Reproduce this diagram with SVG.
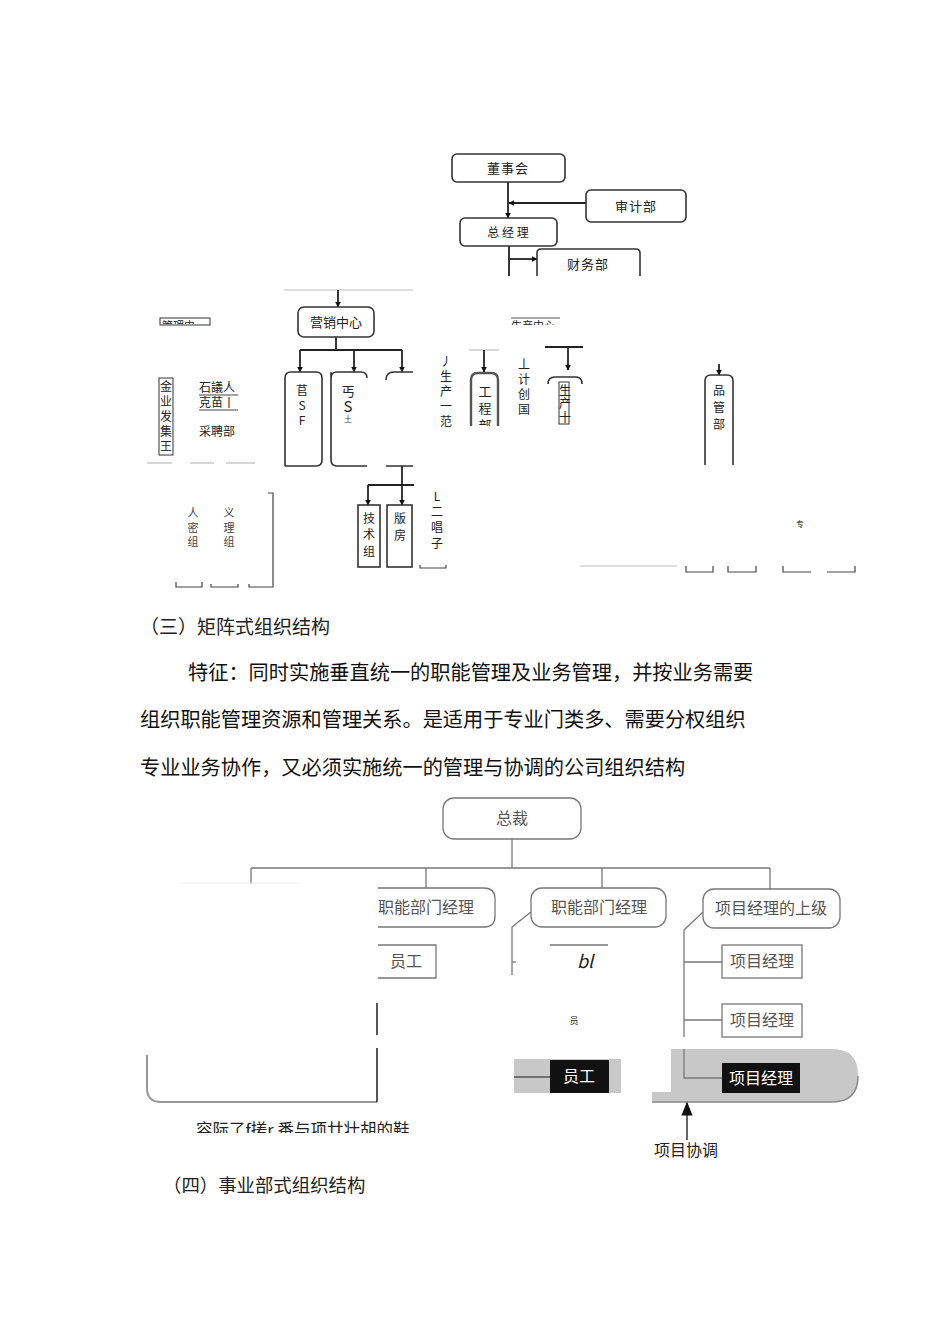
<svg xmlns="http://www.w3.org/2000/svg" width="950" height="1344" viewBox="0 0 950 1344">
<style>
text{font-family:"Noto Sans CJK SC","Liberation Sans",sans-serif;fill:#222}
.box{fill:#fff;stroke:#333;stroke-width:1.6}
.ln{fill:none;stroke:#222;stroke-width:1.8}
.thin{fill:none;stroke:#444;stroke-width:1.2}
.gl{fill:none;stroke:#bbb;stroke-width:1.2}
.t13{font-size:13px;text-anchor:middle}
.t12{font-size:12px;text-anchor:middle}
.t11{font-size:11px;text-anchor:middle;fill:#444}
.vt{writing-mode:vertical-rl;text-orientation:upright}
.para{font-size:20.2px;fill:#111}
.mbox{fill:#fff;stroke:#777;stroke-width:1.3}
.ml{fill:none;stroke:#777;stroke-width:1.3}
.mt{font-size:16px;text-anchor:middle;fill:#555}
.mw{font-size:16px;text-anchor:middle;fill:#fff}
</style>
<defs>
<marker id="ar" viewBox="0 0 10 10" refX="9" refY="5" markerWidth="6" markerHeight="6" orient="auto" markerUnits="userSpaceOnUse"><path d="M0,0 L10,5 L0,10 z" fill="#111"/></marker>
<marker id="arBig" viewBox="0 0 10 10" refX="9" refY="5" markerWidth="14" markerHeight="14" orient="auto" markerUnits="userSpaceOnUse"><path d="M0,1 L10,5 L0,9 z" fill="#111"/></marker>
<clipPath id="cTop1"><rect x="150" y="317" width="70" height="7"/></clipPath>
<clipPath id="cTop2"><rect x="505" y="318" width="60" height="7"/></clipPath>
<clipPath id="cEng"><rect x="460" y="340" width="50" height="86"/></clipPath>
<clipPath id="cCap"><rect x="180" y="1115" width="260" height="18"/></clipPath>
</defs>
<rect width="950" height="1344" fill="#fff"/>

<!-- ===== Top chart ===== -->
<g id="connectors-top">
<line class="ln" x1="508" y1="182" x2="508" y2="218" marker-end="url(#ar)"/>
<line class="ln" x1="586" y1="203" x2="509" y2="203" marker-end="url(#ar)"/>
<line class="ln" x1="509" y1="246" x2="509" y2="276"/>
<line class="ln" x1="509" y1="259" x2="537" y2="259" marker-end="url(#ar)"/>
<line class="gl" x1="284" y1="290" x2="413" y2="290"/>
<line class="ln" x1="338" y1="290" x2="338" y2="307" marker-end="url(#ar)"/>
<line class="ln" x1="336" y1="337" x2="336" y2="350"/>
<line class="ln" x1="300" y1="350" x2="402" y2="350"/>
<line class="ln" x1="300" y1="350" x2="300" y2="372" marker-end="url(#ar)"/>
<line class="ln" x1="354" y1="350" x2="354" y2="372" marker-end="url(#ar)"/>
<line class="ln" x1="402" y1="350" x2="402" y2="372" marker-end="url(#ar)"/>
<line class="ln" x1="402" y1="466" x2="402" y2="505" marker-end="url(#ar)"/>
<line class="ln" x1="368" y1="485" x2="414" y2="485"/>
<line class="ln" x1="368" y1="485" x2="368" y2="505" marker-end="url(#ar)"/>
<line class="gl" x1="469" y1="350" x2="499" y2="350"/>
<line class="ln" x1="484" y1="350" x2="484" y2="372" marker-end="url(#ar)"/>
<line class="ln" x1="545" y1="347" x2="583" y2="347" stroke-width="2.4"/>
<line class="ln" x1="568" y1="347" x2="568" y2="370" marker-end="url(#ar)"/>
<line class="ln" x1="719" y1="364" x2="719" y2="375" marker-end="url(#ar)"/>
</g>

<g id="n-dongshihui"><rect class="box" x="452" y="154" width="113" height="28" rx="5"/><text class="t13" x="508" y="173" letter-spacing="1">董事会</text></g>
<g id="n-shenjibu"><rect class="box" x="586" y="190" width="100" height="32" rx="5"/><text class="t13" x="636" y="211" letter-spacing="1">审计部</text></g>
<g id="n-zongjingli"><rect class="box" x="460" y="218" width="97" height="28" rx="5"/><text class="t12" x="508" y="237">总 经 理</text></g>
<g id="n-caiwubu"><path class="box" d="M537,276 V253 Q537,249 541,249 H636 Q640,249 640,253 V276"/><text class="t13" x="588" y="269" letter-spacing="1">财务部</text></g>
<g id="n-yingxiao"><rect class="box" x="298" y="307" width="76" height="30" rx="6"/><text class="t13" x="336" y="327">营销中心</text></g>

<g id="n-sub1"><path class="box" d="M285,466 V378 Q285,372 291,372 H316 Q322,372 322,378 V460 Q322,466 316,466 H285"/>
<text class="t12"><tspan x="302" y="395">苢</tspan><tspan x="302" y="410">S</tspan><tspan x="302" y="425">F</tspan></text></g>
<g id="n-sub2"><path class="box" d="M331,378 Q331,372 337,372 H361 Q367,372 367,378 M331,372 V460 Q331,466 337,466 H367"/>
<text class="vt" x="348" y="385" font-size="13" letter-spacing="1">丐<tspan font-size="15">S</tspan><tspan font-size="8" fill="#444">土</tspan></text></g>
<g id="n-sub3"><path class="box" d="M386,380 Q386,372 394,372 H413 M386,466 H413"/></g>
<g id="n-jishuzu"><rect class="box" x="358" y="505" width="22" height="62"/><text class="t12"><tspan x="369" y="523">技</tspan><tspan x="369" y="539">术</tspan><tspan x="369" y="556">组</tspan></text></g>
<g id="n-banfang"><rect class="box" x="387" y="505" width="25" height="62"/><text class="t12"><tspan x="400" y="523">版</tspan><tspan x="400" y="540">房</tspan></text></g>
<g id="n-changzi"><text class="t12"><tspan x="437" y="501">L</tspan><tspan x="437" y="516">二</tspan><tspan x="437" y="532">唱</tspan><tspan x="437" y="548">子</tspan></text>
<path class="thin" d="M420,565 V568 H446 V565"/></g>

<g id="n-guanli"><rect x="160" y="318" width="50" height="7" fill="none" stroke="#333" stroke-width="1"/><text x="162" y="330" font-size="11" clip-path="url(#cTop1)">管理中</text></g>
<g id="n-qiye"><rect x="159" y="378" width="14" height="77" fill="none" stroke="#333" stroke-width="1"/>
<text class="t12"><tspan x="166" y="391">金</tspan><tspan x="166" y="406">业</tspan><tspan x="166" y="421">发</tspan><tspan x="166" y="436">集</tspan><tspan x="166" y="451">王</tspan></text></g>
<g id="n-shiyi"><text x="199" y="392" font-size="12">石議人</text><line x1="199" y1="395" x2="238" y2="395" stroke="#444"/>
<text x="199" y="407" font-size="12">克苗丨</text><line x1="199" y1="410" x2="238" y2="410" stroke="#444"/>
<text x="199" y="436" font-size="12">采聘部</text></g>
<g id="n-left-lines"><line class="gl" x1="147" y1="463" x2="172" y2="463" stroke="#888"/><line class="gl" x1="190" y1="463" x2="214" y2="463" stroke="#888"/><line class="gl" x1="226" y1="463" x2="255" y2="463" stroke="#888"/></g>
<g id="n-renmi"><text class="t11"><tspan x="193" y="517">人</tspan><tspan x="193" y="532">密</tspan><tspan x="193" y="546">组</tspan></text></g>
<g id="n-yili"><text class="t11"><tspan x="229" y="517">义</tspan><tspan x="229" y="532">理</tspan><tspan x="229" y="546">组</tspan></text></g>
<g id="n-left-brackets"><path class="thin" d="M268,493 H273 V587 H249 V584" stroke-width="1.6"/><path class="thin" d="M176,582 V587 H202 V582" stroke-width="2"/><path class="thin" d="M211,584 V587 H238 V584"/></g>

<g id="n-shengchan1"><text class="vt" x="446" y="355" font-size="12" letter-spacing="3">丿生产一范</text></g>
<g id="n-gongcheng"><g clip-path="url(#cEng)"><path d="M471,430 V380 Q471,373 478,373 H491 Q498,373 498,380 V430" fill="#fff" stroke="#555" stroke-width="2.4"/>
<text class="t13" fill="#444"><tspan x="485" y="396">工</tspan><tspan x="485" y="413">程</tspan><tspan x="485" y="430">部</tspan></text></g></g>
<g id="n-shengchanzhongxin"><line x1="511" y1="318" x2="560" y2="318" stroke="#555"/><text x="511" y="330" font-size="11" clip-path="url(#cTop2)">生产中心</text></g>
<g id="n-jihua"><text class="vt" x="524" y="358" font-size="12" letter-spacing="3">丄计创国</text></g>
<g id="n-shengchan2"><path class="box" d="M548,384 Q548,377 555,377 H576 Q582,377 582,384" fill="none"/>
<rect x="559" y="382" width="10" height="42" fill="none" stroke="#333" stroke-width="1"/>
<text class="vt" x="565" y="384" font-size="12" letter-spacing="1.5">生产十</text></g>
<g id="n-pinguan"><path class="box" d="M705,465 V381 Q705,375 711,375 H727 Q733,375 733,381 V465"/>
<text class="t12"><tspan x="719" y="395">品</tspan><tspan x="719" y="412">管</tspan><tspan x="719" y="429">部</tspan></text></g>
<g id="n-zhuan"><text x="800" y="527" font-size="8" text-anchor="middle" fill="#444">专</text>
<line class="gl" x1="580" y1="566" x2="677" y2="566" stroke="#ccc"/>
<path class="thin" d="M686,566 V572 H713 V566" stroke-width="1.8"/><path class="thin" d="M728,566 V572 H756 V566" stroke-width="1.8"/><path class="thin" d="M783,566 V572 H811" stroke-width="1.8"/><path class="thin" d="M827,572 H855 V566" stroke-width="1.8"/></g>

<!-- ===== Text ===== -->
<g id="text-body">
<text x="140" y="634" font-size="19" fill="#111">（三）矩阵式组织结构</text>
<text class="para" x="188" y="680">特征：同时实施垂直统一的职能管理及业务管理，并按业务需要</text>
<text class="para" x="140" y="727">组织职能管理资源和管理关系。是适用于专业门类多、需要分权组织</text>
<text class="para" x="140" y="775">专业业务协作，又必须实施统一的管理与协调的公司组织结构</text>
<text x="163" y="1192" font-size="18.4" fill="#111">（四）事业部式组织结构</text>
</g>

<!-- ===== Matrix chart ===== -->
<g id="connectors-matrix">
<line class="ml" x1="512" y1="839" x2="512" y2="868"/>
<line class="ml" x1="251" y1="868" x2="770" y2="868"/>
<line class="ml" x1="251" y1="868" x2="251" y2="884"/>
<line class="ml" x1="426" y1="868" x2="426" y2="888"/>
<line class="ml" x1="602" y1="868" x2="602" y2="888"/>
<line class="ml" x1="770" y1="868" x2="770" y2="889"/>
<path class="ml" d="M531,912 L512,927 V975"/>
<line class="ml" x1="512" y1="962" x2="516" y2="962"/>
<path class="ml" d="M703,912 L684,930 V1037"/>
<line class="ml" x1="684" y1="962" x2="722" y2="962"/>
<line class="ml" x1="684" y1="1020" x2="722" y2="1020"/>
<line x1="180" y1="883" x2="300" y2="883" stroke="#eee" stroke-width="1"/>
</g>

<g id="m-zongcai"><rect class="mbox" x="443" y="798" width="138" height="41" rx="11"/><text class="mt" x="512" y="824">总裁</text></g>
<g id="m-zhineng1"><path class="mbox" d="M378,888 H484 Q495,888 495,899 V916 Q495,927 484,927 H378"/><text class="mt" x="426" y="913">职能部门经理</text></g>
<g id="m-yuangong1"><path class="mbox" d="M378,945 H436 V978 H378"/><text class="mt" x="406" y="967">员工</text></g>
<g id="m-zhineng2"><rect class="mbox" x="531" y="888" width="135" height="39" rx="11"/><text class="mt" x="599" y="913">职能部门经理</text></g>
<g id="m-bl"><line x1="550" y1="945" x2="608" y2="945" stroke="#777" stroke-width="1.3"/><text x="585" y="968" font-size="18" font-style="italic" text-anchor="middle" fill="#666" font-family="Liberation Sans,sans-serif">bl</text></g>
<g id="m-yuan"><text x="574" y="1024" font-size="9" text-anchor="middle" fill="#444">员</text></g>
<g id="m-shangji"><rect class="mbox" x="703" y="889" width="137" height="39" rx="11"/><text class="mt" x="771" y="914">项目经理的上级</text></g>
<g id="m-xmjl1"><rect class="mbox" x="722" y="945" width="80" height="33"/><text class="mt" x="762" y="967">项目经理</text></g>
<g id="m-xmjl2"><rect class="mbox" x="722" y="1004" width="80" height="33"/><text class="mt" x="762" y="1026">项目经理</text></g>

<g id="m-left-region"><path d="M147,1055 V1088 Q147,1102 161,1102 H377" fill="none" stroke="#999" stroke-width="2"/>
<line x1="377" y1="1003" x2="377" y2="1035" stroke="#111" stroke-width="1.4"/>
<line x1="377" y1="1048" x2="377" y2="1102" stroke="#111" stroke-width="1.4"/></g>

<g id="m-yuangong2"><rect x="514" y="1059" width="107" height="34" fill="#c8c8c8"/>
<line x1="514" y1="1077" x2="550" y2="1077" stroke="#555" stroke-width="1.3"/>
<rect x="550" y="1060" width="59" height="33" fill="#111"/><text class="mw" x="579" y="1082">员工</text></g>

<g id="m-xmjl3"><path d="M671,1049 H832 Q858,1049 858,1075 V1076 Q858,1102 832,1102 H652 V1092 H671 Z" fill="#c8c8c8"/>
<path d="M858,1076 Q858,1102 832,1102 H652" fill="none" stroke="#888" stroke-width="1.5"/>
<path class="ml" d="M684,1049 V1078 H722" stroke="#555"/>
<rect x="722" y="1063" width="78" height="30" fill="#111"/><text class="mw" x="761" y="1084">项目经理</text></g>

<g id="m-xietiao"><line x1="687" y1="1140" x2="687" y2="1103" stroke="#333" stroke-width="1.5" marker-end="url(#arBig)"/>
<text x="686" y="1156" font-size="16" text-anchor="middle" fill="#444">项目协调</text></g>

<g id="m-caption"><text x="196" y="1136" font-size="16.5" fill="#888" clip-path="url(#cCap)">容际了f搓r 番与项廿壮胡的鞋</text></g>
</svg>
